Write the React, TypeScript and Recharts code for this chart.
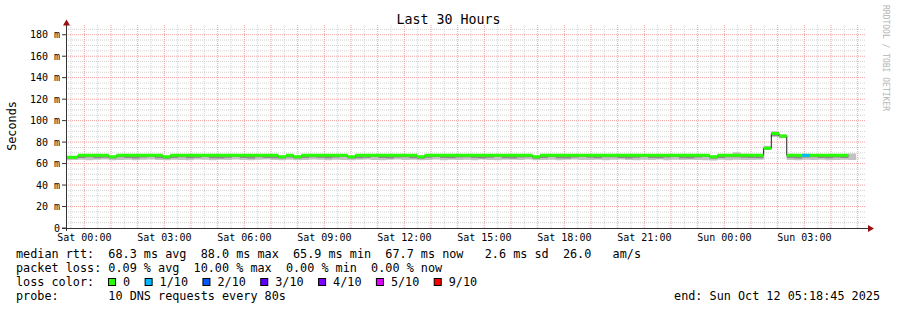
import React from 'react';
import { ComposedChart, Area, Line, XAxis, YAxis, ReferenceLine } from 'recharts';

const FONT = '"DejaVu Sans Mono", monospace';

// x axis in hours since the left edge of the graph (Fri 23:18:45)
const TICK_HOURS = [0.6875, 3.6875, 6.6875, 9.6875, 12.6875, 15.6875, 18.6875, 21.6875, 24.6875, 27.6875];
const TICK_LABELS = ['Sat 00:00', 'Sat 03:00', 'Sat 06:00', 'Sat 09:00', 'Sat 12:00', 'Sat 15:00', 'Sat 18:00', 'Sat 21:00', 'Sun 00:00', 'Sun 03:00'];
const Y_TICKS = [0, 20, 40, 60, 80, 100, 120, 140, 160, 180];

// consolidated rrd steps (13 x 80 s)
const STEP_H = 1040 / 3600;
const FIRST_H = -0.128;

// median rtt per step (ms)
const median = [
  65.9, 65.9, 67.7, 67.7, 67.7, 67.7, 66.3, 67.7, 67.7, 67.7,
  67.7, 67.7, 67.7, 66.3, 67.7, 67.7, 67.7, 67.7, 67.7, 67.7,
  67.7, 67.7, 67.7, 67.7, 67.7, 67.7, 67.7, 67.7, 66.3, 67.7,
  66.3, 67.7, 67.7, 67.7, 67.7, 67.7, 67.7, 66.3, 67.7, 67.7,
  67.7, 67.7, 67.7, 67.7, 67.7, 67.7, 66.3, 67.7, 67.7, 67.7,
  67.7, 67.7, 67.7, 67.7, 67.7, 67.7, 67.7, 67.7, 67.7, 67.7,
  67.7, 66.3, 67.7, 67.7, 67.7, 67.7, 67.7, 67.7, 67.7, 67.7,
  67.7, 67.7, 67.7, 67.7, 67.7, 67.7, 67.7, 67.7, 67.7, 67.7,
  67.7, 67.7, 67.7, 67.7, 66.3, 67.7, 67.7, 67.7, 67.7, 67.7,
  67.7, 74.3, 88.0, 85.8, 67.7, 67.7, 67.7, 67.7, 67.7, 67.7,
  67.7, 67.7,
];

// smoke: fastest and slowest ping per step (ms)
const smokeLo = [
  63.2, 63.4, 63.6, 63.1, 63.5, 63.8, 63.0, 63.4, 63.6, 63.2,
  63.5, 63.9, 63.3, 63.0, 63.6, 63.4, 63.2, 63.7, 63.5, 63.1,
  63.6, 63.3, 63.8, 63.4, 63.2, 63.5, 63.7, 63.3, 63.0, 63.6,
  63.1, 63.4, 63.8, 63.5, 63.2, 63.6, 63.3, 63.0, 63.5, 63.7,
  63.4, 63.2, 63.6, 63.8, 63.3, 63.5, 63.0, 63.4, 63.7, 63.2,
  63.5, 63.3, 63.6, 63.1, 63.8, 63.4, 63.2, 63.6, 63.5, 63.3,
  63.7, 63.0, 63.4, 63.6, 63.2, 63.5, 63.8, 63.3, 63.4, 63.6,
  63.2, 63.5, 63.7, 63.3, 63.1, 63.6, 63.4, 63.8, 63.2, 63.5,
  63.3, 63.6, 63.4, 63.1, 62.9, 63.5, 63.2, 63.6, 63.4, 63.3,
  63.5, 72.6, 84.8, 83.6, 63.4, 63.2, 63.5, 63.3, 63.6, 63.1,
  63.4, 63.6, 63.3,
];
const smokeHi = [
  66.6, 66.6, 68.4, 68.4, 68.4, 68.4, 67.0, 68.4, 68.4, 68.4,
  68.4, 68.4, 68.4, 67.0, 68.4, 68.4, 68.4, 68.4, 68.4, 68.4,
  68.4, 68.4, 68.4, 68.4, 68.4, 68.4, 68.4, 68.4, 67.0, 68.4,
  67.0, 68.4, 68.4, 68.4, 68.4, 68.4, 68.4, 67.0, 68.4, 68.4,
  68.4, 68.4, 68.4, 68.4, 68.4, 68.4, 67.0, 68.4, 68.4, 68.4,
  68.4, 68.4, 68.4, 68.4, 68.4, 68.4, 68.4, 68.4, 68.4, 68.4,
  68.4, 67.0, 68.4, 68.4, 68.4, 68.4, 68.4, 68.4, 68.4, 68.4,
  68.4, 68.4, 68.4, 68.4, 68.4, 68.4, 68.4, 68.4, 68.4, 68.4,
  68.4, 68.4, 68.4, 68.4, 67.0, 68.4, 68.4, 70.5, 69.2, 68.4,
  68.4, 76.5, 90.2, 87.0, 68.4, 68.4, 68.4, 68.4, 68.4, 68.4,
  68.4, 68.4, 69.5,
];
// darker inner smoke: lower edge (ms)
const midLo = [
  64.6, 64.8, 65.2, 65.8, 64.9, 65.5, 64.7, 66.0, 65.1, 64.8,
  65.6, 66.2, 65.0, 64.6, 65.3, 65.9, 64.9, 65.4, 66.1, 65.0,
  64.8, 65.5, 66.3, 65.2, 64.7, 65.8, 65.1, 64.9, 64.8, 65.6,
  64.7, 65.2, 66.0, 65.4, 64.9, 65.7, 66.2, 64.8, 65.0, 65.5,
  66.1, 65.3, 64.8, 65.6, 65.9, 65.0, 64.6, 65.4, 66.2, 65.1,
  64.9, 65.7, 66.0, 65.2, 64.8, 65.5, 66.3, 65.0, 64.7, 65.6,
  65.9, 64.6, 65.3, 66.1, 65.0, 64.8, 65.7, 66.2, 65.4, 64.9,
  65.8, 66.0, 65.1, 64.7, 65.5, 66.3, 65.2, 64.9, 65.6, 66.1,
  65.0, 64.8, 65.7, 66.2, 64.6, 65.3, 65.9, 66.0, 65.4, 65.1,
  64.9, 73.0, 85.6, 84.4, 65.2, 64.8, 65.6, 66.0, 65.3, 64.9,
  65.7, 65.1, 65.4,
];
// lost pings out of 10 per step
const loss = [
  0, 0, 0, 0, 0, 0, 0, 0, 0, 0, 0, 0, 0, 0, 0, 0, 0, 0, 0, 0,
  0, 0, 0, 0, 0, 0, 0, 0, 0, 0, 0, 0, 0, 0, 0, 0, 0, 0, 0, 0,
  0, 0, 0, 0, 0, 0, 0, 0, 0, 0, 0, 0, 0, 0, 0, 0, 0, 0, 0, 0,
  0, 0, 0, 0, 0, 0, 0, 0, 0, 0, 0, 0, 0, 0, 0, 0, 0, 0, 0, 0,
  0, 0, 0, 0, 0, 0, 0, 0, 0, 0, 0, 0, 0, 0, 0, 0, 1, 0, 0, 0,
  0, 0, 0,
];

const LOSS_LABELS = ['0', '1/10', '2/10', '3/10', '4/10', '5/10', '9/10'];
const LOSS_COLORS = ['#26ff00', '#00b8ff', '#0059ff', '#5e00ff', '#7e00ff', '#dd00ff', '#ff0000'];
const LOSS_LEVELS = [0, 1, 2, 3, 4, 5, 9];

const STAT_LINES = [
  'median rtt:  68.3 ms avg  88.0 ms max  65.9 ms min  67.7 ms now   2.6 ms sd  26.0   am/s',
  'packet loss: 0.09 % avg  10.00 % max  0.00 % min  0.00 % now',
  'loss color:',
  'probe:       10 DNS requests every 80s',
];
const END_TEXT = 'end: Sun Oct 12 05:18:45 2025';

const at = (arr: number[], i: number): number | null =>
  i < arr.length ? arr[i] : i === arr.length ? arr[i - 1] : null;

const HALF = 1.4; // half thickness of the coloured median line (ms)

const rows = Array.from({ length: smokeLo.length + 1 }, (_, i) => {
  const m = at(median, i);
  const lo = at(smokeLo, i);
  const hi = at(smokeHi, i);
  const ml = at(midLo, i);
  const band = m == null ? null : [m - HALF, m + HALF];
  const row: any = {
    t: FIRST_H + i * STEP_H,
    smoke: lo == null || hi == null ? null : [lo, hi],
    mid: ml == null || m == null ? null : [ml, m],
    med: m,
    band,
  };
  LOSS_LEVELS.forEach((lv, k) => {
    if (k === 0) return;
    const here = i < loss.length && loss[i] === lv;
    const before = i > 0 && i - 1 < loss.length && loss[i - 1] === lv;
    row['loss' + k] = here || before ? band : null;
  });
  return row;
});

const hourGrid = Array.from({ length: 30 }, (_, k) => 0.6875 + k);
const halfGrid = Array.from({ length: 30 }, (_, k) => 0.1875 + k);
const majorY = [20, 40, 60, 80, 100, 120, 140, 160, 180];
const minorY = Array.from({ length: 37 }, (_, k) => 5 * (k + 1)).filter((v) => v % 20 !== 0);

const CH = 7.08;
const TX = 16;

export default function App() {
  let lx = TX + 13 * CH;
  const legend = LOSS_LABELS.map((lab, k) => {
    const bx = lx;
    const tx = bx + 15;
    lx = tx + lab.length * CH + 14.5;
    return { bx, tx, lab, color: LOSS_COLORS[k] };
  });

  return (
    <div style={{ position: 'absolute', left: 0, top: 0, width: 897, height: 310, background: '#fff' }}>
      <ComposedChart width={897} height={310} data={rows} margin={{ top: 24, right: 31, bottom: 62, left: 16 }}>
        {halfGrid.map((h) => (
          <ReferenceLine key={'hx' + h} x={h} stroke="#d2d2d2" strokeDasharray="1 1" zIndex={-50} />
        ))}
        {minorY.map((v) => (
          <ReferenceLine key={'my' + v} y={v} stroke="#d2d2d2" strokeDasharray="1 1" zIndex={-50} />
        ))}
        {hourGrid.map((h) => (
          <ReferenceLine key={'gx' + h} x={h} stroke="#f2a0a0" strokeDasharray="1 1" zIndex={-40} />
        ))}
        {majorY.map((v) => (
          <ReferenceLine key={'gy' + v} y={v} stroke="#f2a0a0" strokeDasharray="1 1" zIndex={-40} />
        ))}
        <XAxis
          dataKey="t"
          type="number"
          domain={[0, 30]}
          allowDataOverflow
          ticks={TICK_HOURS}
          interval={0}
          tickFormatter={(v) => TICK_LABELS[TICK_HOURS.indexOf(v)] ?? ''}
          axisLine={false}
          tickLine={false}
          tickSize={3}
          tickMargin={3}
          height={20}
          tick={{ fill: '#000', fontSize: 10, fontFamily: FONT }}
        />
        <YAxis
          type="number"
          domain={[0, 190]}
          allowDataOverflow
          ticks={Y_TICKS}
          interval={0}
          width={50}
          axisLine={false}
          tickLine={{ stroke: '#333' }}
          tickSize={4}
          tickMargin={2}
          tickFormatter={(v) => (v === 0 ? '0' : `${v} m`)}
          tick={{ fill: '#000', fontSize: 10, fontFamily: FONT }}
        />
        <Area dataKey="smoke" type="stepAfter" fill="#c2c2c2" fillOpacity={1} stroke="none" isAnimationActive={false} zIndex={100} />
        <Area dataKey="mid" type="stepAfter" fill="#8c8c8c" fillOpacity={1} stroke="none" isAnimationActive={false} zIndex={101} />
        <Line dataKey="med" type="stepAfter" stroke="#202020" strokeWidth={1} dot={false} activeDot={false} isAnimationActive={false} zIndex={102} />
        <Area dataKey="band" type="stepAfter" fill={LOSS_COLORS[0]} fillOpacity={1} stroke="none" isAnimationActive={false} zIndex={103} />
        {LOSS_LEVELS.slice(1).map((lv, k) => (
          <Area
            key={'loss' + lv}
            dataKey={'loss' + (k + 1)}
            type="stepAfter"
            fill={LOSS_COLORS[k + 1]}
            fillOpacity={1}
            stroke="none"
            isAnimationActive={false}
            zIndex={104}
          />
        ))}
      </ComposedChart>
      <svg
        width={897}
        height={310}
        style={{ position: 'absolute', left: 0, top: 0, pointerEvents: 'none', fontFamily: FONT }}
      >
        <line x1={62} y1={228.5} x2={868} y2={228.5} stroke="#333" />
        <line x1={66.5} y1={231} x2={66.5} y2={25} stroke="#333" />
        <polygon points="868,225 874,228.5 868,232" fill="#9a1010" />
        <polygon points="63,25.5 66.5,19.5 70,25.5" fill="#9a1010" />
        <text x={448.5} y={24} fontSize={13.3} textAnchor="middle" fill="#000">
          Last 30 Hours
        </text>
        <text transform="translate(16,126) rotate(-90)" fontSize={11.8} textAnchor="middle" fill="#000">
          Seconds
        </text>
        <text transform="translate(883,5) rotate(90)" fontSize={8} fill="#b4b4b4">
          RRDTOOL / TOBI OETIKER
        </text>
        {STAT_LINES.map((s, i) => (
          <text key={i} x={TX} y={258 + i * 14} fontSize={11.8} fill="#000" style={{ whiteSpace: 'pre' }}>
            {s}
          </text>
        ))}
        {legend.map((it) => (
          <g key={it.lab}>
            <rect x={it.bx + 0.5} y={278.5} width={7} height={7} fill={it.color} stroke="#000" />
            <text x={it.tx} y={286} fontSize={11.8} fill="#000">
              {it.lab}
            </text>
          </g>
        ))}
        <text x={880} y={300} fontSize={11.8} textAnchor="end" fill="#000" style={{ whiteSpace: 'pre' }}>
          {END_TEXT}
        </text>
      </svg>
    </div>
  );
}
